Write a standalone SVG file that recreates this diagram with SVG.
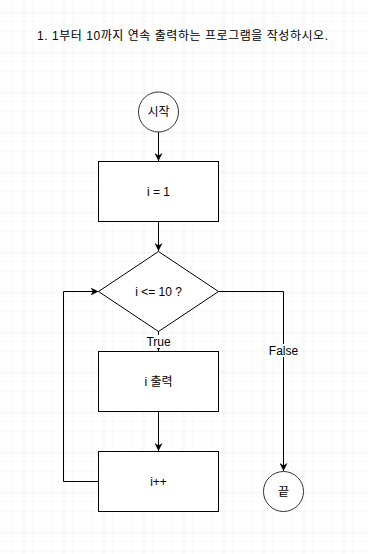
<svg xmlns="http://www.w3.org/2000/svg" width="368" height="554" viewBox="0 0 368 554">
  <defs>
    <pattern id="minor" width="10" height="10" patternUnits="userSpaceOnUse" x="3" y="2">
      <path d="M10 0V10M0 10H10" fill="none" stroke="#f5f5f5" stroke-width="1"/>
    </pattern>
    <pattern id="major" width="40" height="40" patternUnits="userSpaceOnUse" x="23.5" y="12.5">
      <path d="M0 0V40M0 0H40" fill="none" stroke="#e6e6e6" stroke-width="1"/>
    </pattern>
    <marker id="arrow" viewBox="0 0 10 10" refX="10" refY="5" markerWidth="8" markerHeight="8" markerUnits="userSpaceOnUse" orient="auto">
      <path d="M0 0L10 5L0 10L3 5Z" fill="#000"/>
    </marker>
  </defs>
  <style>
    .shape { fill: #fff; stroke: #000; stroke-width: 1; }
    .term { fill: #fff; stroke: #333; stroke-width: 1; }
    .edge { fill: none; stroke: #000; stroke-width: 1; marker-end: url(#arrow); }
    text { font-family: "Liberation Sans", "Noto Sans CJK KR", sans-serif; font-size: 12px; fill: #000; text-anchor: middle; dominant-baseline: central; }
  </style>

  <!-- background grid -->
  <rect width="368" height="554" fill="#fff"/>
  <rect width="368" height="554" fill="url(#minor)"/>
  <rect width="368" height="554" fill="url(#major)"/>

  <!-- heading -->
  <text x="182.5" y="36" textLength="291" lengthAdjust="spacing">1. 1부터 10까지 연속 출력하는 프로그램을 작성하시오.</text>

  <!-- connectors -->
  <g id="edges">
    <path class="edge" d="M158.5 132V161"/>
    <path class="edge" d="M158.5 221V251"/>
    <path class="edge" d="M158.5 331V351"/>
    <path class="edge" d="M158.5 411V451"/>
    <path class="edge" d="M98.5 481.5H63.5V291.5H98.5"/>
    <path class="edge" d="M218.5 291.5H283.5V471"/>
    <rect x="144" y="335" width="29" height="13" fill="#fff"/>
    <text x="158.5" y="341.5">True</text>
    <rect x="268" y="344" width="31" height="13" fill="#fff"/>
    <text x="283.5" y="350.5">False</text>
  </g>

  <g id="start">
    <circle class="term" cx="158.5" cy="112" r="20"/>
    <text x="158.5" y="112">시작</text>
  </g>

  <g id="init">
    <rect class="shape" x="98.5" y="161.5" width="120" height="60"/>
    <text x="158.5" y="191.5">i = 1</text>
  </g>

  <g id="cond">
    <path class="shape" d="M158.5 251.5L218.5 291.5L158.5 331.5L98.5 291.5Z"/>
    <text x="158.5" y="291.5">i &lt;= 10 ?</text>
  </g>

  <g id="print">
    <rect class="shape" x="98.5" y="351.5" width="120" height="60"/>
    <text x="158.5" y="381.5">i 출력</text>
  </g>

  <g id="incr">
    <rect class="shape" x="98.5" y="451.5" width="120" height="60"/>
    <text x="158.5" y="481.5">i++</text>
  </g>

  <g id="end">
    <circle class="term" cx="283.5" cy="491.5" r="20"/>
    <text x="283.5" y="491.5">끝</text>
  </g>
</svg>
